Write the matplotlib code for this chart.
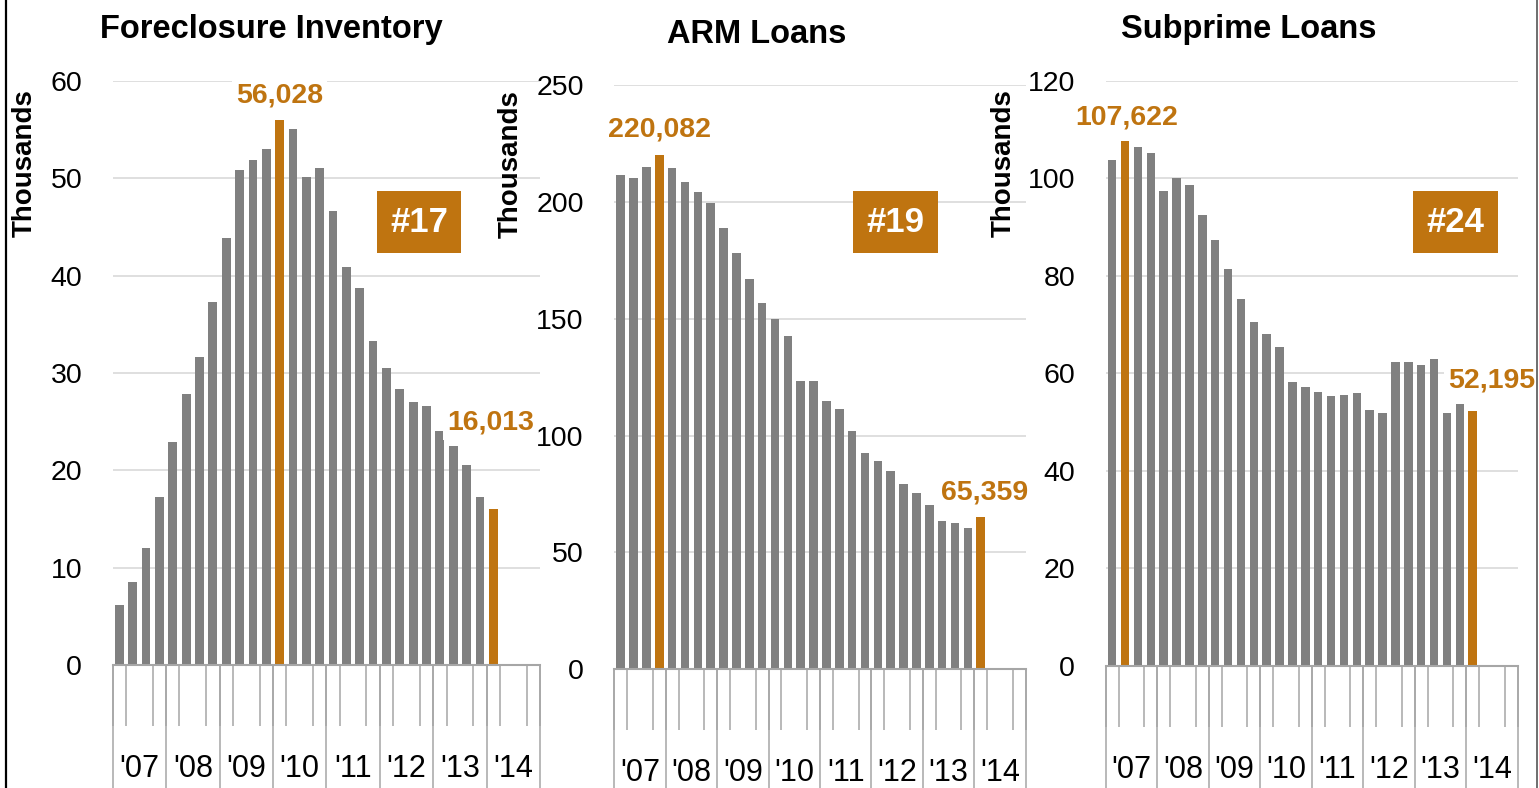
import matplotlib
matplotlib.use("Agg")
import matplotlib.pyplot as plt
from matplotlib.patches import Rectangle
from matplotlib.lines import Line2D

NARROW = ['Liberation Sans Narrow', 'Liberation Sans', 'DejaVu Sans']
WIDE = ['Liberation Sans', 'DejaVu Sans']
plt.rcParams['font.family'] = NARROW

ORANGE = '#BF7410'
GRAY = '#808080'
AXIS_GRAY = '#A6A6A6'
GRID = '#D9D9D9'

# quarterly data, '07 Q1 .. '14 Q1 (thousands); '14 Q2-Q4 are empty slots
years = ["'07", "'08", "'09", "'10", "'11", "'12", "'13", "'14"]
n_slots = 32

foreclosure = [6.2, 8.5, 12.0, 17.3, 22.9, 27.8, 31.6, 37.3, 43.9, 50.9,
               51.9, 53.0, 56.028, 55.1, 50.1, 51.1, 46.6, 40.9, 38.7, 33.3,
               30.5, 28.4, 27.0, 26.6, 24.0, 22.5, 20.5, 17.3, 16.013]
arm = [211.5, 210.3, 215.0, 220.082, 214.6, 208.5, 204.4, 199.5, 188.9, 178.2,
       166.8, 156.8, 149.8, 142.7, 123.4, 123.4, 114.6, 111.4, 102.1, 92.4,
       89.1, 84.7, 79.3, 75.5, 70.3, 63.4, 62.7, 60.4, 65.359]
subprime = [103.7, 107.622, 106.5, 105.2, 97.5, 100.0, 98.6, 92.4, 87.4, 81.4,
            75.2, 70.6, 68.0, 65.4, 58.2, 57.2, 56.2, 55.3, 55.5, 55.9,
            52.5, 51.9, 62.3, 62.3, 61.7, 62.9, 51.8, 53.7, 52.195]

titles = ['Foreclosure Inventory', 'ARM Loans', 'Subprime Loans']
ranks = ['#17', '#19', '#24']
series = [foreclosure, arm, subprime]
highlight = [[12, 28], [3, 28], [1, 28]]
callouts = [['56,028', '16,013'], ['220,082', '65,359'], ['107,622', '52,195']]
yticks = [[0, 10, 20, 30, 40, 50, 60],
          [0, 50, 100, 150, 200, 250],
          [0, 20, 40, 60, 80, 100, 120]]

W, H = 1539, 788
fig = plt.figure(figsize=(W / 100, H / 100), dpi=100)

# layout in pixels: (left, right, top, bottom)
boxes_px = [(112.7, 540, 81, 665), (614.3, 1025.7, 85, 669.3), (1105.7, 1517.7, 80.9, 665.7)]
title_px = [(271, 38), (757, 43), (1249, 38)]
ylabel_px = [(25, 163), (511, 164), (1004, 163)]
rank_px = [(377, 461, 191, 253), (853, 938, 191, 253), (1413, 1498, 191, 253)]
# callout offsets in points (dx, dy) relative to bar top
callout_off = [[(0, 12), (-2, 57)], [(0, 13), (3, 12.5)], [(1, 12), (14, 17.5)]]

for i in range(3):
    l, r, t, b = boxes_px[i]
    ax = fig.add_axes([l / W, 1 - b / H, (r - l) / W, (b - t) / H])
    vals = series[i]
    xs = list(range(len(vals)))
    colors = [ORANGE if k in highlight[i] else GRAY for k in xs]
    ax.bar(xs, vals, width=0.66, color=colors, zorder=2)

    ax.set_xlim(-0.5, n_slots - 0.5)
    ax.set_ylim(yticks[i][0], yticks[i][-1])
    ax.set_yticks(yticks[i])
    ax.yaxis.grid(True, color=GRID, linewidth=1.2, zorder=0)
    ax.set_axisbelow(True)
    ax.tick_params(axis='y', length=0, pad=22, labelsize=20.5)

    for s in ['top', 'right', 'left']:
        ax.spines[s].set_visible(False)
    ax.spines['bottom'].set_color(AXIS_GRAY)
    ax.spines['bottom'].set_linewidth(1.5)

    # year labels at group centres, quarter dividers as minor ticks
    ax.set_xticks([4 * k + 1.5 for k in range(len(years))], years)
    ax.tick_params(axis='x', which='major', length=0, pad=64, labelsize=22)
    ax.set_xticks([k - 0.5 for k in range(n_slots + 1)], minor=True)
    ax.tick_params(axis='x', which='minor', length=44, width=1.1, color=AXIS_GRAY)
    ax_h = b - t
    ax.vlines([4 * k - 0.5 for k in range(len(years) + 1)], -(H - b) / ax_h, 0,
              transform=ax.get_xaxis_transform(), colors=AXIS_GRAY,
              linewidth=1.1, clip_on=False)

    for k, txt, off in zip(highlight[i], callouts[i], callout_off[i]):
        ax.annotate(txt, (k, vals[k]), xytext=off, textcoords='offset points',
                    ha='center', va='baseline', color=ORANGE, fontsize=20.5,
                    fontweight='bold', zorder=5,
                    bbox=dict(facecolor='white', edgecolor='none', pad=3))

    tx, ty = title_px[i]
    fig.text(tx / W, 1 - ty / H, titles[i], ha='center', va='baseline',
             fontsize=23.5, fontweight='bold', family=WIDE)

    lx, ly = ylabel_px[i]
    fig.text(lx / W, 1 - ly / H, 'Thousands', ha='center', va='center',
             rotation=90, fontsize=20, fontweight='bold', family=WIDE)

    x0, x1, y0, y1 = rank_px[i]
    fig.patches.append(Rectangle((x0 / W, 1 - y1 / H), (x1 - x0) / W, (y1 - y0) / H,
                                 transform=fig.transFigure, facecolor=ORANGE,
                                 edgecolor='none', zorder=3))
    fig.text((x0 + x1) / 2 / W, 1 - (y0 + y1) / 2 / H, ranks[i], ha='center',
             va='center', color='white', fontsize=25, fontweight='bold', zorder=4)

# slide frame edges
fig.add_artist(Line2D([6 / W, 6 / W], [0, 1], color='black', linewidth=1.6))
fig.add_artist(Line2D([1537 / W, 1537 / W], [0, 1], color='#555555', linewidth=1.2))

fig.savefig('out.png', dpi=100)
